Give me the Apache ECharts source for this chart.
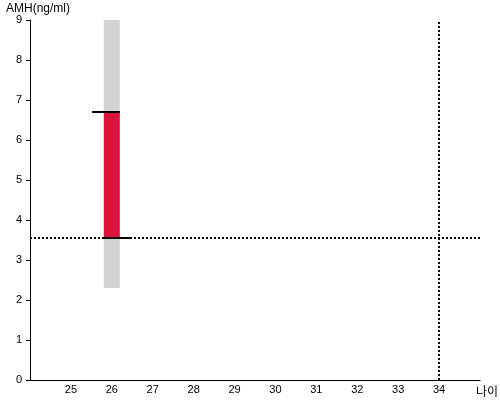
<!DOCTYPE html>
<html>
<head>
<meta charset="utf-8">
<script src="https://cdn.jsdelivr.net/npm/echarts@6/dist/echarts.min.js"></script>
<style>html,body{margin:0;padding:0;background:#fff}#c{width:500px;height:400px}</style>
</head>
<body>
<div id="c"></div>
<script>
// Data
const xTickLabels = [25, 26, 27, 28, 29, 30, 31, 32, 33, 34];
const yTickLabels = [0, 1, 2, 3, 4, 5, 6, 7, 8, 9];
const rangeBar = [26, 2.3, 9];      // [age, low, high] gray reference range
const valueBar = [26, 3.55, 6.7];   // [age, low, high] red measured range
const topCap = [[25.52, 6.7], [26.2, 6.7]];
const bottomCap = [[25.77, 3.55], [26.47, 3.55]];
const refLineY = 3.55;
const refLineX = 34;

const chart = echarts.init(document.getElementById('c'), null, {renderer: 'canvas'});

function barRender(color) {
  return function (params, api) {
    const x = api.value(0);
    const lo = api.coord([x, api.value(1)]);
    const hi = api.coord([x, api.value(2)]);
    const w = 16;
    return {
      type: 'rect',
      shape: {x: lo[0] - w / 2, y: hi[1], width: w, height: lo[1] - hi[1]},
      style: {fill: color}
    };
  };
}

const option = {
  animation: false,
  backgroundColor: '#fff',
  grid: {left: 30, right: 20, top: 20, bottom: 20, containLabel: false, outerBoundsMode: 'none'},
  textStyle: {fontFamily: 'Liberation Sans, Arial, sans-serif'},
  xAxis: {
    type: 'value',
    min: 24, max: 35, interval: 1,
    name: '나이',
    nameLocation: 'end',
    nameGap: -4,
    nameTextStyle: {color: '#000', fontSize: 12, verticalAlign: 'top', padding: [5, 0, 0, 0], fontFamily: 'Noto Sans CJK KR'},
    axisLine: {show: true, lineStyle: {color: '#000', width: 1}},
    axisTick: {show: false},
    splitLine: {show: false},
    axisLabel: {
      color: '#000', fontSize: 11, margin: 4,
      formatter: function (v) { return xTickLabels.indexOf(v) >= 0 ? String(v) : ''; }
    }
  },
  yAxis: {
    type: 'value',
    min: 0, max: 9, interval: 1,
    name: 'AMH(ng/ml)',
    nameLocation: 'end',
    nameGap: 0,
    nameTextStyle: {color: '#000', fontSize: 12, align: 'left', padding: [0, 0, 0, -24]},
    axisLine: {show: true, lineStyle: {color: '#000', width: 1}},
    axisTick: {show: true, length: 4, lineStyle: {color: '#000'}},
    splitLine: {show: false},
    axisLabel: {
      color: '#000', fontSize: 11, margin: 8,
      formatter: function (v) { return yTickLabels.indexOf(v) >= 0 ? String(v) : ''; }
    }
  },
  series: [
    {
      type: 'custom', z: 1,
      renderItem: barRender('#d3d3d3'),
      data: [rangeBar],
      encode: {x: 0, y: [1, 2]}
    },
    {
      type: 'custom', z: 2,
      renderItem: barRender('#dc143c'),
      data: [valueBar],
      encode: {x: 0, y: [1, 2]},
      markLine: {
        silent: true, symbol: 'none', z: 3,
        label: {show: false},
        lineStyle: {color: '#000', width: 2, type: [2, 2]},
        data: [{yAxis: refLineY}, {xAxis: refLineX}]
      }
    },
    {
      type: 'line', z: 5, symbol: 'none', data: topCap,
      lineStyle: {color: '#000', width: 2}
    },
    {
      type: 'line', z: 5, symbol: 'none', data: bottomCap,
      lineStyle: {color: '#000', width: 2}
    }
  ]
};
chart.setOption(option);
</script>
</body>
</html>
